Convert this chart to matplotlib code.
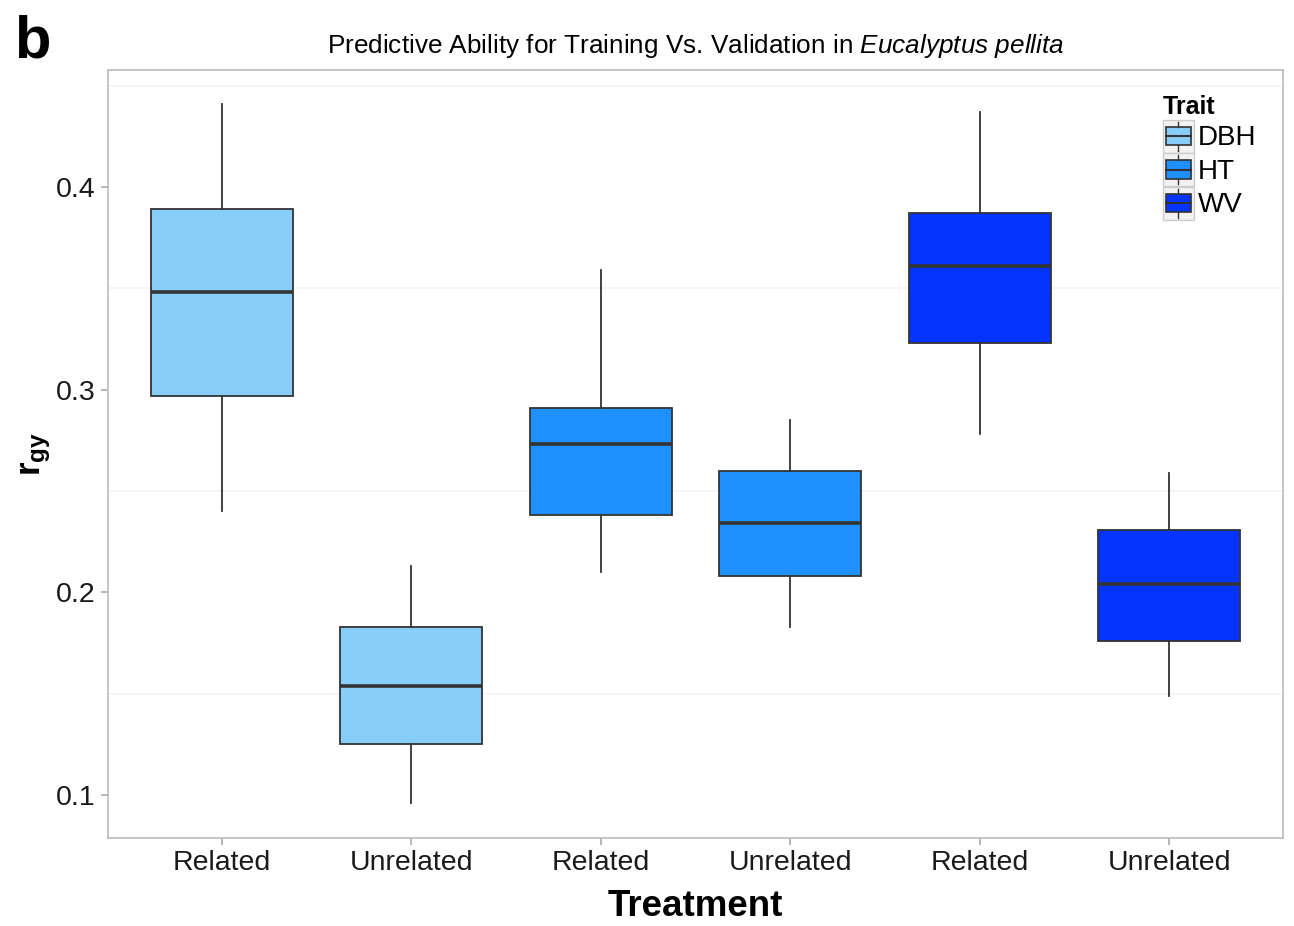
import matplotlib
matplotlib.use("Agg")
import matplotlib.pyplot as plt
from matplotlib.legend_handler import HandlerBase
from matplotlib.patches import Rectangle
from matplotlib.lines import Line2D

plt.rcParams['font.family'] = ['Liberation Sans', 'DejaVu Sans']
plt.rcParams['mathtext.fontset'] = 'custom'
plt.rcParams['mathtext.rm'] = 'Liberation Sans'
plt.rcParams['mathtext.it'] = 'Liberation Sans:italic'
plt.rcParams['mathtext.bf'] = 'Liberation Sans:bold'

categories = ["Related", "Unrelated", "Related", "Unrelated", "Related", "Unrelated"]
traits = ["DBH", "DBH", "HT", "HT", "WV", "WV"]
whislo = [0.240, 0.096, 0.210, 0.183, 0.278, 0.149]
q1 = [0.297, 0.125, 0.238, 0.208, 0.323, 0.176]
med = [0.348, 0.154, 0.273, 0.234, 0.361, 0.204]
q3 = [0.389, 0.183, 0.291, 0.260, 0.387, 0.231]
whishi = [0.441, 0.213, 0.359, 0.285, 0.437, 0.259]
trait_names = ["DBH", "HT", "WV"]
trait_colors = {"DBH": "#87CEFA", "HT": "#1E90FF", "WV": "#0533FF"}

fig = plt.figure(figsize=(12.94, 9.26), dpi=100)
ax = fig.add_axes([108/1294, 1 - 838/926, (1283-108)/1294, (838-70)/926])

stats = []
for i in range(len(categories)):
    stats.append(dict(whislo=whislo[i], q1=q1[i], med=med[i], q3=q3[i],
                      whishi=whishi[i], fliers=[], label=categories[i]))
positions = list(range(1, len(categories) + 1))
bp = ax.bxp(stats, positions=positions, widths=0.75, patch_artist=True,
            showcaps=False, showfliers=False,
            boxprops=dict(edgecolor="#333333", linewidth=1.3),
            medianprops=dict(color="#333333", linewidth=2.6),
            whiskerprops=dict(color="#333333", linewidth=1.3))
for patch, t in zip(bp['boxes'], traits):
    patch.set_facecolor(trait_colors[t])

ax.set_xlim(0.4, 6.6)
ax.set_ylim(0.0788, 0.4577)
ax.set_yticks([0.1, 0.2, 0.3, 0.4])
ax.set_yticklabels(["0.1", "0.2", "0.3", "0.4"])
ax.set_xticks(positions)
ax.set_xticklabels(categories)
for y in [0.15, 0.25, 0.35, 0.45]:
    ax.axhline(y, color="#F3F3F3", linewidth=1.2, zorder=0)
ax.tick_params(axis='both', labelsize=20.5, color="#AAAAAA", length=5, width=1.2,
               labelcolor="#1a1a1a", pad=4)
for s in ax.spines.values():
    s.set_color("#BBBBBB")
    s.set_linewidth(1.2)

ax.set_xlabel("Treatment", fontsize=26.5, fontweight='bold', labelpad=9)
ax.set_ylabel(r"$\mathbf{r_{gy}}$", fontsize=25, labelpad=2)
ax.set_title(r"Predictive Ability for Training Vs. Validation in $\mathit{Eucalyptus\ pellita}$",
             fontsize=18.8, pad=12)
fig.text(14/1294, 1 - 58/926, "b", fontsize=43, fontweight='bold', ha='left', va='baseline')


class BoxHandler(HandlerBase):
    def create_artists(self, legend, orig_handle, xdescent, ydescent, width, height, fontsize, trans):
        c = orig_handle.get_facecolor()
        arts = []
        x0 = -xdescent
        y0 = -ydescent
        bg = Rectangle((x0, y0), width, height,
                       facecolor="#F2F2F2", edgecolor="#CCCCCC", lw=1, transform=trans)
        arts.append(bg)
        bx0 = x0 + width * 0.1
        bw = width * 0.8
        r = Rectangle((bx0, y0 + height * 0.22), bw, height * 0.56,
                      facecolor=c, edgecolor="#333333", lw=1.2, transform=trans)
        arts.append(r)
        cx = x0 + width / 2
        arts.append(Line2D([bx0, bx0 + bw], [y0 + height / 2] * 2, color="#333333", lw=1.5, transform=trans))
        arts.append(Line2D([cx, cx], [y0 + height * 0.06, y0 + height * 0.22], color="#333333", lw=1, transform=trans))
        arts.append(Line2D([cx, cx], [y0 + height * 0.78, y0 + height * 0.94], color="#333333", lw=1, transform=trans))
        return arts


handles = [Rectangle((0, 0), 1, 1, facecolor=trait_colors[t]) for t in trait_names]
leg = ax.legend(handles, trait_names, title="Trait", loc='upper left',
                bbox_to_anchor=(1163/1294, 1 - 95/926), bbox_transform=fig.transFigure,
                frameon=False, fontsize=20, handler_map={Rectangle: BoxHandler()},
                handlelength=1.1, handleheight=1.45, handletextpad=0.15, labelspacing=0.02,
                borderpad=0.0, borderaxespad=0)
leg.get_title().set_fontweight('bold')
leg.get_title().set_fontsize(18)
leg._legend_box.align = "left"

fig.savefig("out.png", dpi=100, facecolor="white")
